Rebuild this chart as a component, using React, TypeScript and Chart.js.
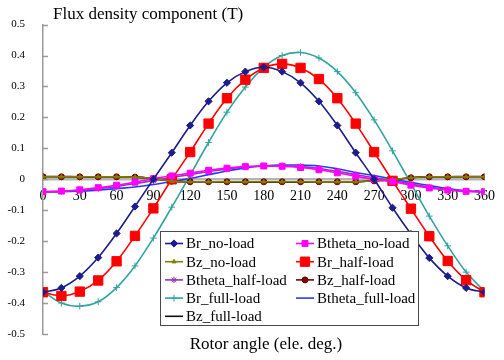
import React, { useEffect, useRef } from 'react';
import { Chart, registerables } from 'chart.js';
import { drawPoint } from 'chart.js/helpers';

Chart.register(...registerables);

// Rotor angle (electrical degrees) at which each component was sampled
const angles = [0, 15, 30, 45, 60, 75, 90, 105, 120, 135, 150, 165, 180, 195, 210, 225, 240, 255, 270, 285, 300, 315, 330, 345, 360];

// Axis tick values
const xTickValues = [0, 30, 60, 90, 120, 150, 180, 210, 240, 270, 300, 330, 360];
const yTickValues = [0.5, 0.4, 0.3, 0.2, 0.1, 0, -0.1, -0.2, -0.3, -0.4, -0.5];

// Radial component (T)
const brNoLoad = [-0.365, -0.351, -0.313, -0.253, -0.175, -0.088, 0.0, 0.086, 0.174, 0.252, 0.312, 0.348, 0.362, 0.348, 0.312, 0.252, 0.174, 0.086, 0.0, -0.092, -0.177, -0.254, -0.313, -0.351, -0.365];
const brHalfLoad = [-0.365, -0.377, -0.363, -0.327, -0.265, -0.183, -0.094, 0.0, 0.088, 0.18, 0.262, 0.322, 0.36, 0.373, 0.36, 0.324, 0.262, 0.18, 0.088, -0.005, -0.095, -0.184, -0.264, -0.326, -0.365];
const brFullLoad = [-0.362, -0.4, -0.41, -0.396, -0.35, -0.28, -0.19, -0.09, 0.014, 0.119, 0.217, 0.298, 0.362, 0.4, 0.41, 0.392, 0.348, 0.28, 0.192, 0.092, -0.014, -0.119, -0.215, -0.3, -0.362];

// Tangential component (T)
const bthetaNoLoad = [-0.04, -0.038, -0.034, -0.027, -0.019, -0.009, 0.002, 0.011, 0.02, 0.029, 0.036, 0.041, 0.043, 0.042, 0.038, 0.031, 0.021, 0.01, 0.0, -0.008, -0.019, -0.028, -0.035, -0.039, -0.04];
const bthetaHalfLoad = [-0.04, -0.039, -0.036, -0.03, -0.023, -0.014, -0.004, 0.006, 0.015, 0.025, 0.033, 0.04, 0.043, 0.044, 0.041, 0.035, 0.026, 0.015, 0.005, -0.004, -0.015, -0.025, -0.033, -0.038, -0.04];
const bthetaFullLoad = [-0.041, -0.04, -0.038, -0.035, -0.03, -0.025, -0.017, -0.007, 0.003, 0.015, 0.027, 0.037, 0.043, 0.046, 0.046, 0.043, 0.034, 0.022, 0.012, 0.001, -0.01, -0.02, -0.03, -0.037, -0.041];

// Axial component (T)
const bzNoLoad = [0.008, 0.008, 0.008, 0.008, 0.008, 0.007, 0.002, -0.006, -0.008, -0.008, -0.008, -0.008, -0.008, -0.008, -0.008, -0.008, -0.008, -0.008, -0.005, -0.001, 0.005, 0.008, 0.008, 0.008, 0.008];
const bzHalfLoad = [0.008, 0.008, 0.008, 0.008, 0.008, 0.007, 0.002, -0.006, -0.008, -0.008, -0.008, -0.008, -0.008, -0.008, -0.008, -0.008, -0.008, -0.008, -0.005, -0.001, 0.005, 0.008, 0.008, 0.008, 0.008];
const bzFullLoad = [0.009, 0.009, 0.008, 0.008, 0.008, 0.007, 0.002, -0.006, -0.008, -0.008, -0.009, -0.009, -0.009, -0.009, -0.009, -0.008, -0.008, -0.008, -0.005, -0.001, 0.005, 0.008, 0.008, 0.009, 0.009];

const SERIF = '"Liberation Serif", "Times New Roman", serif';

type SeriesDef = {
  label: string;
  values: number[];
  color: string;
  style: string | false;
  radius: number;
};

// Listed in legend reading order (two columns, row by row)
const seriesDefs: SeriesDef[] = [
  { label: 'Br_no-load', values: brNoLoad, color: '#1c1c8c', style: 'rectRot', radius: 3.6 },
  { label: 'Btheta_no-load', values: bthetaNoLoad, color: '#ff00ff', style: 'rect', radius: 4.2 },
  { label: 'Bz_no-load', values: bzNoLoad, color: '#7f7f00', style: 'triangle', radius: 2.4 },
  { label: 'Br_half-load', values: brHalfLoad, color: '#ff0000', style: 'rect', radius: 6.6 },
  { label: 'Btheta_half-load', values: bthetaHalfLoad, color: '#9933bb', style: 'star', radius: 3.2 },
  { label: 'Bz_half-load', values: bzHalfLoad, color: '#7a0000', style: 'circle', radius: 3 },
  { label: 'Br_full-load', values: brFullLoad, color: '#33a3a0', style: 'cross', radius: 3.4 },
  { label: 'Btheta_full-load', values: bthetaFullLoad, color: '#3333ff', style: false, radius: 0 },
  { label: 'Bz_full-load', values: bzFullLoad, color: '#111111', style: false, radius: 0 },
];

// Legend box drawn inside the plot area
const legendPlugin = {
  id: 'boxLegend',
  afterDraw(chart: any) {
    const ctx = chart.ctx as CanvasRenderingContext2D;
    const box = { x: 160.5, y: 231.5, w: 258, h: 94 };
    ctx.save();
    ctx.fillStyle = '#ffffff';
    ctx.fillRect(box.x, box.y, box.w, box.h);
    ctx.strokeStyle = '#4a4a4a';
    ctx.lineWidth = 1;
    ctx.strokeRect(box.x, box.y, box.w, box.h);

    const colX = [165, 296];
    const rowY0 = 243.5;
    const rowStep = 18.2;
    chart.data.datasets.forEach((ds: any, i: number) => {
      const col = i % 2;
      const row = Math.floor(i / 2);
      const x0 = colX[col];
      const y = rowY0 + row * rowStep;
      ctx.strokeStyle = ds.borderColor;
      ctx.lineWidth = 1.6;
      ctx.beginPath();
      ctx.moveTo(x0, y);
      ctx.lineTo(x0 + 18, y);
      ctx.stroke();
      if (ds.pointStyle) {
        ctx.fillStyle = ds.pointBackgroundColor;
        ctx.strokeStyle = ds.pointBorderColor;
        ctx.lineWidth = 1;
        drawPoint(ctx, { pointStyle: ds.pointStyle, rotation: 0, borderWidth: 1, radius: ds.pointRadius }, x0 + 9, y);
      }
      ctx.fillStyle = '#000000';
      ctx.font = `15px ${SERIF}`;
      ctx.textBaseline = 'middle';
      ctx.textAlign = 'left';
      ctx.fillText(ds.label, x0 + 21, y + 1);
    });
    ctx.restore();
  },
};

// Axis titles and the short inward tick marks on the value axis
const decorPlugin = {
  id: 'axisDecor',
  afterDraw(chart: any) {
    const ctx = chart.ctx as CanvasRenderingContext2D;
    const yScale = chart.scales.y;
    const area = chart.chartArea;
    ctx.save();
    ctx.strokeStyle = '#9a9a9a';
    ctx.lineWidth = 1.5;
    yTickValues.forEach((v) => {
      const py = Math.round(yScale.getPixelForValue(v)) + 0.5;
      ctx.beginPath();
      ctx.moveTo(area.left, py);
      ctx.lineTo(area.left + 5, py);
      ctx.stroke();
    });
    ctx.fillStyle = '#000000';
    ctx.font = `17px ${SERIF}`;
    ctx.textBaseline = 'alphabetic';
    ctx.textAlign = 'left';
    ctx.fillText('Flux density component (T)', area.left + 10, 18.5);
    ctx.textAlign = 'center';
    ctx.fillText('Rotor angle (ele. deg.)', 266, 348.5);
    ctx.restore();
  },
};

export default function App() {
  const canvasRef = useRef<HTMLCanvasElement | null>(null);

  useEffect(() => {
    const canvas = canvasRef.current;
    if (!canvas) return;

    const datasets = seriesDefs.map((s) => ({
      label: s.label,
      data: angles.map((a, i) => ({ x: a, y: s.values[i] })),
      borderColor: s.color,
      backgroundColor: s.color,
      pointBackgroundColor: s.color,
      pointBorderColor: s.color,
      pointStyle: s.style,
      pointRadius: s.radius,
      pointBorderWidth: 1,
      borderWidth: 1.6,
      tension: 0.35,
      fill: false,
    }));

    const chart = new Chart(canvas, {
      type: 'line',
      data: { datasets },
      plugins: [decorPlugin, legendPlugin],
      options: {
        animation: false,
        responsive: false,
        devicePixelRatio: 1,
        layout: { padding: { left: 0, right: 7, top: 8, bottom: 26 } },
        plugins: {
          legend: { display: false },
          tooltip: { enabled: false },
          title: { display: false },
        },
        scales: {
          x: {
            type: 'linear',
            min: 0,
            max: 360,
            position: { y: 0 },
            afterBuildTicks: (scale: any) => {
              scale.ticks = xTickValues.map((v) => ({ value: v }));
            },
            grid: { display: true, drawOnChartArea: false, drawTicks: false },
            border: { display: true, color: '#b4b4b4', width: 2.5 },
            ticks: {
              autoSkip: false,
              maxRotation: 0,
              padding: 9,
              color: '#000000',
              font: { family: SERIF, size: 14 },
              callback: (v: any) => String(v),
            },
          },
          y: {
            type: 'linear',
            min: -0.5,
            max: 0.5,
            position: 'left',
            afterBuildTicks: (scale: any) => {
              scale.ticks = yTickValues.map((v) => ({ value: v }));
            },
            afterFit: (scale: any) => {
              scale.width = 43;
            },
            grid: { display: true, drawOnChartArea: false, drawTicks: false },
            border: { display: true, color: '#9a9a9a', width: 1.5 },
            ticks: {
              padding: 18,
              color: '#000000',
              font: { family: SERIF, size: 11 },
              callback: (v: any) => String(Number(Number(v).toFixed(1))),
            },
          },
        },
      },
    });

    return () => {
      chart.destroy();
    };
  }, []);

  return (
    <div style={{ position: 'fixed', left: 0, top: 0, width: 504, height: 360, background: '#ffffff' }}>
      <canvas ref={canvasRef} width={504} height={360} />
    </div>
  );
}
